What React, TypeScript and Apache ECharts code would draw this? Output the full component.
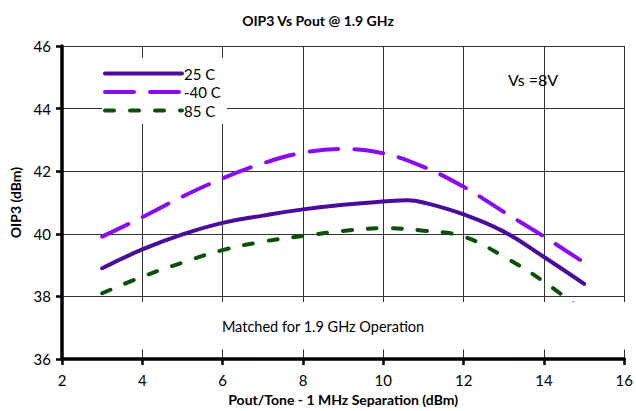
import React, { useEffect, useRef } from "react";
import * as echarts from "echarts";

const pout = [3, 4, 5, 6, 7, 8, 9, 10, 10.6, 11, 12, 13, 14, 15];
const oip3_25C = [38.9, 39.5, 39.98, 40.35, 40.58, 40.78, 40.93, 41.03, 41.07, 41.0, 40.62, 40.07, 39.26, 38.4];
const pout2 = [3, 4, 5, 6, 7, 8, 9, 10, 11, 12, 13, 14, 15];
const oip3_m40C = [39.91, 40.53, 41.19, 41.77, 42.25, 42.59, 42.71, 42.57, 42.14, 41.5, 40.7, 39.91, 39.08];
const oip3_85C = [38.1, 38.63, 39.08, 39.48, 39.75, 39.93, 40.09, 40.18, 40.1, 39.91, 39.27, 38.47, 37.5];

const FONT = "Lato";

export default function App() {
  const ref = useRef<HTMLDivElement>(null);
  useEffect(() => {
    const chart = echarts.init(ref.current!, undefined, { renderer: "svg" });
    chart.setOption({
      animation: false,
      backgroundColor: "#fff",
      textStyle: { fontFamily: FONT },
      title: {
        text: "OIP3 Vs Pout @ 1.9 GHz",
        left: "center",
        top: 8,
        textStyle: { fontFamily: FONT, fontSize: 14, fontWeight: "bold", color: "#000" },
      },
      legend: {
        orient: "vertical",
        left: 102,
        top: 58,
        padding: [8, 6, 6, 1],
        backgroundColor: "#fff",
        itemWidth: 77,
        itemHeight: 14,
        itemGap: 3.5,
        itemStyle: { opacity: 0 },
        lineStyle: { width: 4 },
        textStyle: { fontFamily: FONT, fontSize: 15, color: "#000", padding: [0, 0, 0, -3] },
        data: ["25 C", "-40 C", "85 C"],
      },
      grid: { left: 62, right: 1, top: 46, bottom: 52 },
      xAxis: {
        type: "value",
        min: 2,
        max: 16,
        interval: 2,
        name: "Pout/Tone - 1 MHz Separation (dBm)",
        nameLocation: "middle",
        nameGap: 33,
        nameTextStyle: { fontFamily: FONT, fontSize: 14, fontWeight: "bold", color: "#000" },
        axisLine: { show: true, onZero: false, lineStyle: { color: "#000", width: 3.5 } },
        axisTick: { show: true, length: 6, lineStyle: { color: "#000", width: 2.5 } },
        axisLabel: { fontFamily: FONT, fontSize: 15, color: "#000", margin: 13 },
        splitLine: { show: true, lineStyle: { color: "#333", width: 1 } },
      },
      yAxis: {
        type: "value",
        min: 36,
        max: 46,
        interval: 2,
        name: "OIP3 (dBm)",
        nameLocation: "middle",
        nameGap: 37,
        nameTextStyle: { fontFamily: FONT, fontSize: 14, fontWeight: "bold", color: "#000" },
        axisLine: { show: true, lineStyle: { color: "#000", width: 3.5 } },
        axisTick: { show: true, length: 6, lineStyle: { color: "#000", width: 2.5 } },
        axisLabel: { fontFamily: FONT, fontSize: 15, color: "#000", margin: 11 },
        splitLine: { show: true, lineStyle: { color: "#333", width: 1 } },
      },
      series: [
        {
          name: "25 C",
          type: "line",
          smooth: 0.45,
          symbol: "none",
          data: pout.map((x, i) => [x, oip3_25C[i]]),
          lineStyle: { color: "#4B0C9C", width: 4, cap: "round" },
          itemStyle: { color: "#4B0C9C" },
          z: 3,
        },
        {
          name: "-40 C",
          type: "line",
          smooth: 0.4,
          symbol: "none",
          data: pout2.map((x, i) => [x, oip3_m40C[i]]),
          lineStyle: { color: "#8A0BF2", width: 4, type: [29, 16], cap: "round" },
          itemStyle: { color: "#8A0BF2" },
          z: 3,
        },
        {
          name: "85 C",
          type: "line",
          smooth: 0.4,
          symbol: "none",
          data: pout2.map((x, i) => [x, oip3_85C[i]]),
          lineStyle: { color: "#0B4F0B", width: 4, type: [9, 16], cap: "round" },
          itemStyle: { color: "#0B4F0B" },
          z: 3,
        },
      ],
      graphic: [
        {
          type: "rect",
          z: 50,
          shape: { x: 64, y: 302, width: 569, height: 47.5 },
          style: { fill: "#fff" },
        },
        {
          type: "text",
          z: 51,
          x: 323,
          y: 326,
          style: {
            text: "Matched for 1.9 GHz Operation",
            fill: "#000",
            font: `14.5px ${FONT}`,
            align: "center",
            verticalAlign: "middle",
          },
        },
        {
          type: "text",
          z: 51,
          x: 533,
          y: 79,
          style: {
            text: "Vs =8V",
            fill: "#000",
            font: `16px ${FONT}`,
            align: "center",
            verticalAlign: "middle",
          },
        },
      ],
    });
    return () => chart.dispose();
  }, []);
  return <div ref={ref} style={{ width: 636, height: 411, position: "absolute", left: 0, top: 0 }} />;
}
